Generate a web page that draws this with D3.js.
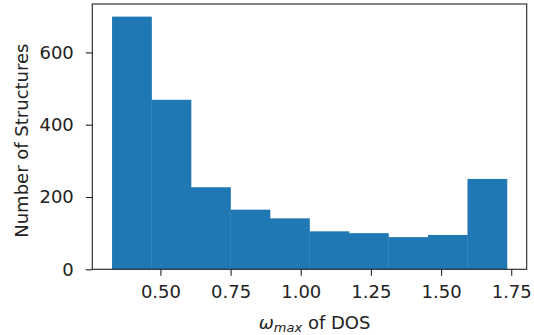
<!DOCTYPE html>
<html>
<head>
<meta charset="utf-8">
<script src="https://cdn.jsdelivr.net/npm/d3@7/dist/d3.min.js"></script>
<style>
  html, body { margin: 0; padding: 0; background: #fff; }
  svg { display: block; font-family: "DejaVu Sans", sans-serif; }
</style>
</head>
<body>
<svg id="chart" width="534" height="335"></svg>
<script>
// Histogram of the maximum phonon frequency of the DOS
const binStart = 0.3276;
const binEnd = 1.7348;
const counts = [699, 469, 227, 165, 141, 105, 100, 89, 95, 250];
const xTicks = [0.50, 0.75, 1.00, 1.25, 1.50, 1.75];
const yTicks = [0, 200, 400, 600];

const svg = d3.select("#chart");
const plotLeft = 92.3, plotRight = 526.7, plotTop = 4, plotBottom = 269.3;
const fontSize = 18;

const nBins = counts.length;
const binW = (binEnd - binStart) / nBins;
const bins = counts.map((c, i) => ({ x0: binStart + i * binW, x1: binStart + (i + 1) * binW, n: c }));

const span = binEnd - binStart;
const x = d3.scaleLinear()
  .domain([binStart - 0.05 * span, binEnd + 0.05 * span])
  .range([plotLeft, plotRight]);
const yMax = d3.max(counts) * 1.05;
const y = d3.scaleLinear().domain([0, yMax]).range([plotBottom, plotTop]);

// bars
svg.append("g").selectAll("rect")
  .data(bins)
  .join("rect")
  .attr("x", d => x(d.x0))
  .attr("width", d => x(d.x1) - x(d.x0) + 0.3)
  .attr("y", d => y(d.n))
  .attr("height", d => y(0) - y(d.n))
  .attr("fill", "#1f77b4");

const textColor = "#222";

// x axis
const xAxis = svg.append("g")
  .attr("transform", `translate(0,${plotBottom})`)
  .call(d3.axisBottom(x).tickValues(xTicks).tickFormat(d3.format(".2f")).tickSize(6.5).tickPadding(9));
xAxis.select(".domain").remove();
xAxis.selectAll("line").attr("stroke", textColor).attr("stroke-width", 1.1);
xAxis.selectAll("text").attr("fill", textColor).style("font-size", fontSize + "px").style("font-family", "DejaVu Sans");

// y axis
const yAxis = svg.append("g")
  .attr("transform", `translate(${plotLeft},0)`)
  .call(d3.axisLeft(y).tickValues(yTicks).tickFormat(d3.format("d")).tickSize(6.5).tickPadding(12));
yAxis.select(".domain").remove();
yAxis.selectAll("line").attr("stroke", textColor).attr("stroke-width", 1.1);
yAxis.selectAll("text").attr("fill", textColor).style("font-size", fontSize + "px").style("font-family", "DejaVu Sans");

// frame
svg.append("rect")
  .attr("x", plotLeft).attr("y", plotTop)
  .attr("width", plotRight - plotLeft).attr("height", plotBottom - plotTop)
  .attr("fill", "none").attr("stroke", textColor).attr("stroke-width", 1.1);

// axis titles
const xl = svg.append("text")
  .attr("x", 314.6).attr("y", 328.5)
  .attr("text-anchor", "middle")
  .attr("fill", textColor)
  .style("font-size", fontSize + "px");
xl.append("tspan").attr("font-style", "italic").text("ω");
xl.append("tspan").attr("font-style", "italic").attr("dy", 3).style("font-size", "13px").text("max");
xl.append("tspan").attr("dy", -3).text(" of DOS");

svg.append("text")
  .attr("transform", `translate(27.5,${(plotTop + plotBottom) / 2 + 4}) rotate(-90)`)
  .attr("text-anchor", "middle")
  .attr("fill", textColor)
  .style("font-size", fontSize + "px")
  .text("Number of Structures");
</script>
</body>
</html>
